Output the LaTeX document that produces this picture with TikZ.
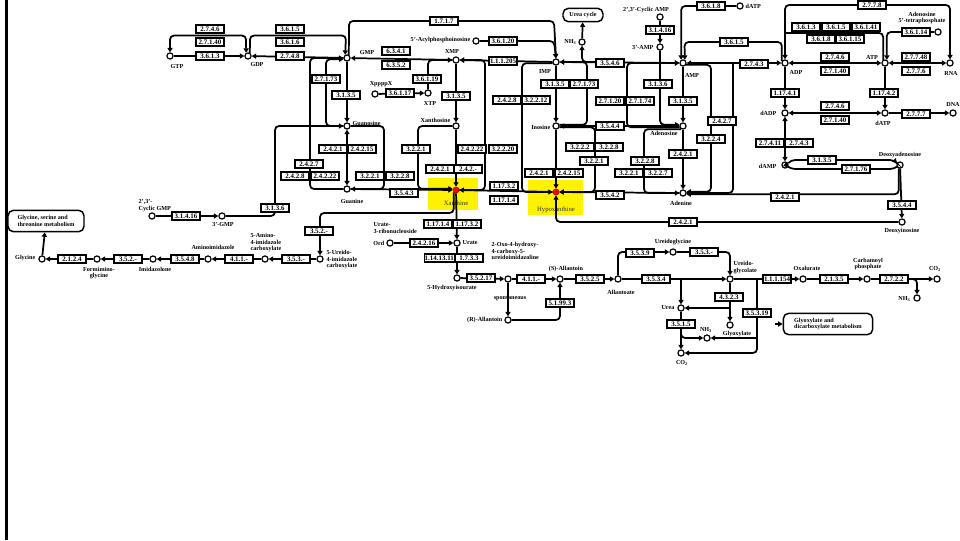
\documentclass[tikz,border=0pt]{standalone}
\usepackage{fontspec}
\setmainfont{Liberation Serif}
\usetikzlibrary{arrows.meta}
\begin{document}
\begin{tikzpicture}[x=0.75pt,y=-0.75pt,
  ec/.style={draw,line width=1.1pt,fill=white,minimum width=21pt,minimum height=6.2pt,inner sep=0.2pt,font=\fontsize{5.2}{5.2}\selectfont\bfseries},
  cpd/.style={circle,draw,line width=0.9pt,fill=white,minimum size=4.6pt,inner sep=0pt},
  hcpd/.style={circle,draw=red!60!black,line width=0.4pt,fill=red,minimum size=4.6pt,inner sep=0pt},
  lbl/.style={font=\fontsize{4.6}{4.9}\selectfont\bfseries,inner sep=0.3pt,align=center},
  hlbl/.style={font=\fontsize{5}{5}\selectfont,text=black!80,inner sep=0.3pt},
  rx/.style={line width=1.3pt,rounded corners=3pt},
  tip/.style={-{Triangle[length=3.3pt,width=3.8pt]}},
  both/.style={{Triangle[length=3.3pt,width=3.8pt]}-{Triangle[length=3.3pt,width=3.8pt]}},
  mapbox/.style={draw,line width=1.1pt,rounded corners=4pt,font=\fontsize{4.6}{4.9}\selectfont\bfseries,align=left,inner sep=2pt}
]
\useasboundingbox (0,0) rectangle (960,540);
\fill[black] (5,0) rectangle (7.5,540);

% highlights
\fill[yellow] (428,178) rectangle (478,210);
\fill[yellow] (528,180) rectangle (583,215);

% ---------------- compounds ----------------
\node[cpd] (gtp) at (170,56) {};
\node[lbl] (lgtp) at (177,66) {GTP};
\node[cpd] (gdp) at (248,56) {};
\node[lbl] (lgdp) at (257,64) {GDP};
\node[cpd] (gmp) at (347,58) {};
\node[lbl] (lgmp) at (367,52) {GMP};
\node[cpd] (xmp) at (456,60) {};
\node[lbl] (lxmp) at (452,51) {XMP};
\node[cpd] (xtp) at (428,93) {};
\node[lbl] (lxtp) at (430,103) {XTP};
\node[cpd] (xpx) at (375,94) {};
\node[lbl] (lxpx) at (381,84) {XppppX};
\node[cpd] (acyl) at (476,41) {};
\node[lbl,anchor=east] (lacyl) at (471,40) {5'-Acylphosphoinosine};
\node[cpd] (imp) at (556,62) {};
\node[lbl] (limp) at (545,71) {IMP};
\node[cpd] (nha) at (582,42) {};
\node[lbl,anchor=east] (lnha) at (577,42) {NH\textsubscript{3}};
\node[mapbox,minimum width=30pt,minimum height=10pt] (ureamap) at (583,15) {Urea cycle};
\node[cpd] (camp) at (660,17) {};
\node[lbl] (lcamp) at (646,10) {2',3'-Cyclic AMP};
\node[cpd] (amp3) at (660,47) {};
\node[lbl,anchor=east] (lamp3) at (654,47) {3'-AMP};
\node[cpd] (amp) at (683,63) {};
\node[lbl] (lamp) at (692,75) {AMP};
\node[cpd] (c3618) at (740,6) {};
\node[lbl,anchor=west] (lc3618) at (745,6) {dATP};
\node[cpd] (adp) at (785,63) {};
\node[lbl] (ladp) at (796,72) {ADP};
\node[cpd] (atp) at (885,63) {};
\node[lbl] (latp) at (872,57) {ATP};
\node[cpd] (rna) at (950,63) {};
\node[lbl] (lrna) at (951,73) {RNA};
\node[cpd] (adtp) at (938,32) {};
\node[lbl] (ladtp) at (922,18) {Adenosine\\5'-tetraphosphate};
\node[cpd] (dadp) at (785,113) {};
\node[lbl,anchor=east] (ldadp) at (777,113) {dADP};
\node[cpd] (datp) at (885,113) {};
\node[lbl] (ldatp) at (883,123) {dATP};
\node[cpd] (dna) at (953,113) {};
\node[lbl] (ldna) at (953,104) {DNA};
\node[cpd] (damp) at (785,165) {};
\node[lbl,anchor=east] (ldamp) at (777,166) {dAMP};
\node[cpd] (dado) at (900,165) {};
\node[lbl] (ldado) at (900,155) {Deoxyadenosine};
\node[cpd] (dino) at (902,222) {};
\node[lbl] (ldino) at (902,231) {Deoxyinosine};
\node[cpd] (ino) at (556,126) {};
\node[lbl,anchor=east] (lino) at (551,127) {Inosine};
\node[cpd] (ado) at (683,126) {};
\node[lbl] (lado) at (664,133) {Adenosine};
\node[cpd] (ade) at (683,193) {};
\node[lbl] (lade) at (681,203) {Adenine};
\node[hcpd] (hyp) at (556,192) {};
\node[hlbl] (lhyp) at (556,210) {Hypoxanthine};
\node[hcpd] (xan) at (456,190) {};
\node[hlbl] (lxan) at (456,203) {Xanthine};
\node[cpd] (xsn) at (456,126) {};
\node[lbl,anchor=east] (lxsn) at (451,120) {Xanthosine};
\node[cpd] (gsn) at (347,126) {};
\node[lbl,anchor=west] (lgsn) at (352,123) {Guanosine};
\node[cpd] (gua) at (347,189) {};
\node[lbl] (lgua) at (352,201) {Guanine};
\node[cpd] (cgmp) at (152,216) {};
\node[lbl,anchor=south west,align=left] (lcgmp) at (138,212) {2',3'-\\Cyclic GMP};
\node[cpd] (gmp3) at (222,216) {};
\node[lbl] (lgmp3) at (223,224) {3'-GMP};
\node[cpd] (urate) at (457,243) {};
\node[lbl,anchor=west] (lurate) at (462,243) {Urate};
\node[cpd] (urr) at (390,243) {};
\node[lbl,anchor=north west,align=left] (lurr) at (373,222) {Urate-\\3-ribonucleoside};
\node[lbl,anchor=east] (lurr2) at (385,243) {Ord};
\node[cpd] (ure) at (320,259) {};
\node[lbl,anchor=north west,align=left] (lure) at (326,250) {5-Ureido-\\4-imidazole\\carboxylate};
\node[cpd] (aic) at (265,259) {};
\node[lbl,anchor=north west,align=left] (laic) at (250,233) {5-Amino-\\4-imidazole\\carboxylate};
\node[cpd] (aim) at (208,259) {};
\node[lbl] (laim) at (213,247) {Aminoimidazole};
\node[cpd] (imz) at (153,259) {};
\node[lbl] (limz) at (155,269) {Imidazolone};
\node[cpd] (fgly) at (97,259) {};
\node[lbl] (lfgly) at (99,273) {Formimino-\\glycine};
\node[cpd] (gly) at (42,259) {};
\node[lbl,anchor=east] (lgly) at (36,258) {Glycine};
\node[mapbox,minimum width=57pt,minimum height=16pt] (glymap) at (46,221) {Glycine, serine and\\threonine metabolism};
\node[cpd] (hiu) at (457,278) {};
\node[lbl] (lhiu) at (452,288) {5-Hydroxyisourate};
\node[cpd] (ohcu) at (508,279) {};
\node[lbl,anchor=north west,align=left] (lohcu) at (491,242) {2-Oxo-4-hydroxy-\\4-carboxy-5-\\ureidoimidazoline};
\node[cpd] (sal) at (560,279) {};
\node[lbl] (lsal) at (566,269) {(S)-Allantoin};
\node[lbl] (lspon) at (510,298) {spontaneous};
\node[cpd] (ral) at (508,320) {};
\node[lbl,anchor=east] (lral) at (503,320) {(R)-Allantoin};
\node[cpd] (alla) at (618,279) {};
\node[lbl] (lalla) at (621,292) {Allantoate};
\node[cpd] (ugn) at (673,252) {};
\node[lbl] (lugn) at (673,242) {Ureidoglycine};
\node[cpd] (urea) at (681,308) {};
\node[lbl,anchor=east] (lurea) at (675,308) {Urea};
\node[cpd] (co2a) at (681,353) {};
\node[lbl] (lco2a) at (682,363) {CO\textsubscript{2}};
\node[cpd] (nhb) at (707,338) {};
\node[lbl] (lnhb) at (706,330) {NH\textsubscript{3}};
\node[cpd] (ugc) at (730,279) {};
\node[lbl,anchor=north west,align=left] (lugc) at (733,261) {Ureido-\\glycolate};
\node[cpd] (glx) at (730,325) {};
\node[lbl] (lglx) at (737,334) {Glyoxylate};
\node[cpd] (oxa) at (803,279) {};
\node[lbl] (loxa) at (807,268) {Oxalurate};
\node[cpd] (cbp) at (867,279) {};
\node[lbl] (lcbp) at (868,264) {Carbamoyl\\phosphate};
\node[cpd] (co2b) at (937,279) {};
\node[lbl] (lco2b) at (935,269) {CO\textsubscript{2}};
\node[cpd] (nhc) at (917,298) {};
\node[lbl,anchor=east] (lnhc) at (911,299) {NH\textsubscript{3}};
\node[mapbox,minimum width=67pt,minimum height=16pt] (glxmap) at (828,324) {Glyoxylate and\\dicarboxylate metabolism};

% ---------------- junctions ----------------
\coordinate (j1) at (681,279);
\coordinate (j2) at (730,308);
\coordinate (j3) at (757,338);
\coordinate (j4) at (681,331);
\coordinate (j5) at (757,279);
\coordinate (j6) at (906,279);
\coordinate (j7) at (775,324);
\coordinate (j8) at (597,62);
\coordinate (j9) at (733,64);
\coordinate (j10) at (785,33);

% ---------------- connectors ----------------
\draw[rx,tip] (gtp) -- (gdp);
\draw[rx,both] (gtp.north) -- (170,35.5) -- (246,35.5) -- (gdp.120);
\draw[rx,tip] (gmp) -- (gdp);
\draw[rx,tip] (gdp.60) -- (250,35.5) -- (346,35.5) -- (gmp.120);
\draw[rx,tip] (gmp.60) -- (349,21) -- (554,21) -- (imp.north);
\draw[rx,tip] (acyl) -- (554,41) -- (imp.north);
\draw[rx,tip] (xmp) -- (gmp);
\draw[rx,tip] (imp) -- (xmp);
\draw[rx,tip] (xpx) -- (xtp);
\draw[rx,tip] (xtp.north) |- (xmp.west);
\draw[rx,tip] (xmp) -- (xsn);
\draw[rx,tip] (gmp) -- (gsn);
\draw[rx,tip] (gsn.west) -| (326,100) |- (gmp.200);
\draw[rx,tip] (gua.west) -| (310,120) |- (gmp.west);
\draw[rx,both] (gsn) -- (gua);
\draw[rx,tip] (gsn.east) -| (384,150) |- (gua.east);
\draw[rx,tip] (gua) -- (xan);
\draw[rx,tip] (cgmp) -- (gmp3);
\draw[rx,tip] (gmp3.east) -| (275,170) |- (gsn.west);
\draw[rx,tip] (xsn) -- (xan);
\draw[rx,tip] (xsn.west) -| (418,160) |- (xan.160);
\draw[rx,tip] (xan.east) -| (485,120) |- (xmp.east);
\draw[rx,tip] (imp.200) -| (522,120) |- (hyp.west);
\draw[rx,tip] (imp) -- (ino);
\draw[rx,tip] (ino.20) -| (587,95) |- (imp.east);
\draw[rx,tip] (ino) -- (hyp);
\draw[rx,tip] (ino.340) -| (595,160) |- (hyp.east);
\draw[rx,tip] (ado) -- (ino);
\draw[rx,tip] (ade) -- (hyp);
\draw[rx,tip] (dino.west) -| (hyp.south);
\draw[rx,tip] (hyp) -- (xan);
\draw[rx,tip] (xan) -- (urate);
\draw[rx,tip] (urr) -- (urate);
\draw[rx,tip] (xan.south west) |- (320,213) -- (ure.north);
\draw[rx,tip] (ure) -- (aic);
\draw[rx,tip] (aic) -- (aim);
\draw[rx,tip] (aim) -- (imz);
\draw[rx,tip] (imz) -- (fgly);
\draw[rx,tip] (fgly) -- (gly);
\draw[rx,tip] (gly) -- (glymap);
\draw[rx,tip] (urate) -- (hiu);
\draw[rx,tip] (hiu) -- (ohcu);
\draw[rx,tip] (ohcu) -- (sal);
\draw[rx,tip] (ohcu) -- (ral);
\draw[rx,tip] (ral.east) -| (sal.south);
\draw[rx,tip] (sal) -- (alla);
\draw[rx,tip] (alla) -- (ugc);
\draw[rx,tip] (j1) -- (urea);
\draw[rx,tip] (alla.north) |- (ugn.west);
\draw[rx,tip] (ugn.east) -| (ugc.north);
\draw[rx,tip] (ugc) -- (glx);
\draw[rx,tip] (j2) -- (urea.east);
\draw[rx,tip] (j5) |- (co2a.east);
\draw[rx,tip] (j3) -- (nhb.east);
\draw[rx,tip] (urea) -- (co2a);
\draw[rx,tip] (j4) |- (nhb.west);
\draw[rx,tip] (ugc) -- (oxa);
\draw[rx,tip] (oxa) -- (cbp);
\draw[rx,tip] (cbp) -- (co2b);
\draw[rx,tip] (j6) -| (nhc.north);
\draw[line width=1pt,tip] (j7) -- (glxmap.west);
\draw[rx,both] (amp) -- (imp);
\draw[rx,tip] (j8) -| (nha.south);
\draw[rx,tip] (nha) -- (ureamap);
\draw[rx,tip] (camp) -- (amp3);
\draw[rx,tip] (amp3.south) |- (ado.160);
\draw[rx,tip] (amp) -- (ado);
\draw[rx,tip] (ado.200) -| (627,100) |- (amp.west);
\draw[rx,tip] (ado) -- (ade);
\draw[rx,tip] (ado.240) -| (644,160) |- (ade.west);
\draw[rx,tip] (amp.330) -| (711,150) |- (ade.20);
\draw[rx] (ade.east) -| (j9);
\draw[rx,both] (amp) -- (adp);
\draw[rx,tip] (adp.150) |- (684.5,42) -- (amp.60);
\draw[rx,tip] (c3618) -| (amp.120);
\draw[rx,both] (adp) -- (atp);
\draw[rx,both] (adp.north) -- (785,5) -- (950,5) -- (rna.north);
\draw[rx] (atp.120) |- (j10);
\draw[rx,tip] (adtp) -| (atp.60);
\draw[rx,both] (atp) -- (rna);
\draw[rx,tip] (adp) -- (dadp);
\draw[rx,tip] (atp) -- (datp);
\draw[rx,both] (datp) -- (dadp);
\draw[rx,tip] (datp) -- (dna);
\draw[rx,both] (dadp) -- (damp);
\draw[rx,tip] (damp.30) -- (791,160) -- (894,160) -- (dado.150);
\draw[rx,tip] (dado.210) -- (894,169) -- (791,169) -- (damp.330);
\draw[rx,tip] (dado) -- (dino);
\draw[rx,tip] (dado.250) |- (ade.340);

% ---------------- enzymes ----------------
\node[ec] (e1) at (210,29) {2.7.4.6};
\node[ec] (e2) at (210,42) {2.7.1.40};
\node[ec] (e3) at (210,56) {3.6.1.3};
\node[ec] (e4) at (290,29) {3.6.1.5};
\node[ec] (e5) at (290,42) {3.6.1.6};
\node[ec] (e6) at (290,56) {2.7.4.8};
\node[ec] (e7) at (444,21) {1.7.1.7};
\node[ec] (e8) at (503,41) {3.6.1.20};
\node[ec] (e9) at (396,51) {6.3.4.1};
\node[ec] (e10) at (396,65) {6.3.5.2};
\node[ec] (e11) at (503,61) {1.1.1.205};
\node[ec] (e12) at (326,79) {2.7.1.73};
\node[ec] (e13) at (346,95) {3.1.3.5};
\node[ec] (e14) at (400,93) {3.6.1.17};
\node[ec] (e15) at (427,79) {3.6.1.19};
\node[ec] (e16) at (456,96) {3.1.3.5};
\node[ec] (e17) at (309,164) {2.4.2.7};
\node[ec] (e18) at (295,176) {2.4.2.8};
\node[ec] (e19) at (325,176) {2.4.2.22};
\node[ec] (e20) at (333,149) {2.4.2.1};
\node[ec] (e21) at (362,149) {2.4.2.15};
\node[ec] (e22) at (370,176) {3.2.2.1};
\node[ec] (e23) at (400,176) {3.2.2.8};
\node[ec] (e24) at (404,193) {3.5.4.3};
\node[ec] (e25) at (416,149) {3.2.2.1};
\node[ec] (e26) at (440,169) {2.4.2.1};
\node[ec] (e27) at (468,169) {2.4.2.-};
\node[ec] (e28) at (472,149) {2.4.2.22};
\node[ec] (e29) at (503,149) {3.2.2.20};
\node[ec] (e30) at (275,208) {3.1.3.6};
\node[ec] (e31) at (186,216) {3.1.4.16};
\node[ec] (e32) at (319,231) {3.5.2.-};
\node[ec] (e33) at (438,224) {1.17.1.4};
\node[ec] (e34) at (467,224) {1.17.3.2};
\node[ec] (e35) at (424,243) {2.4.2.16};
\node[ec] (e36) at (441,258) {1.14.13.113};
\node[ec] (e37) at (469,258) {1.7.3.3};
\node[ec] (e38) at (481,278) {3.5.2.17};
\node[ec] (e39) at (531,279) {4.1.1.-};
\node[ec] (e40) at (560,303) {5.1.99.3};
\node[ec] (e41) at (590,279) {3.5.2.5};
\node[ec] (e42) at (656,279) {3.5.3.4};
\node[ec] (e43) at (640,253) {3.5.3.9};
\node[ec] (e44) at (704,252) {3.5.3.-};
\node[ec] (e45) at (729,297) {4.3.2.3};
\node[ec] (e46) at (757,313) {3.5.3.19};
\node[ec] (e47) at (681,324) {3.5.1.5};
\node[ec] (e48) at (777,279) {1.1.1.154};
\node[ec] (e49) at (834,279) {2.1.3.5};
\node[ec] (e50) at (894,279) {2.7.2.2};
\node[ec] (e51) at (72,259) {2.1.2.4};
\node[ec] (e52) at (128,259) {3.5.2.-};
\node[ec] (e53) at (185,259) {3.5.4.8};
\node[ec] (e54) at (239,259) {4.1.1.-};
\node[ec] (e55) at (296,259) {3.5.3.-};
\node[ec] (e56) at (555,84) {3.1.3.5};
\node[ec] (e57) at (584,84) {2.7.1.73};
\node[ec] (e58) at (507,100) {2.4.2.8};
\node[ec] (e59) at (536,100) {3.2.2.12};
\node[ec] (e60) at (610,63) {3.5.4.6};
\node[ec] (e61) at (660,30) {3.1.4.16};
\node[ec] (e62) at (610,101) {2.7.1.20};
\node[ec] (e63) at (640,101) {2.7.1.74};
\node[ec] (e64) at (658,84) {3.1.3.6};
\node[ec] (e65) at (683,101) {3.1.3.5};
\node[ec] (e66) at (610,126) {3.5.4.4};
\node[ec] (e67) at (580,147) {3.2.2.2};
\node[ec] (e68) at (609,147) {3.2.2.8};
\node[ec] (e69) at (594,161) {3.2.2.1};
\node[ec] (e70) at (539,173) {2.4.2.1};
\node[ec] (e71) at (569,173) {2.4.2.15};
\node[ec] (e72) at (504,186) {1.17.3.2};
\node[ec] (e73) at (504,200) {1.17.1.4};
\node[ec] (e74) at (610,195) {3.5.4.2};
\node[ec] (e75) at (683,222) {2.4.2.1};
\node[ec] (e76) at (683,154) {2.4.2.1};
\node[ec] (e77) at (645,161) {3.2.2.8};
\node[ec] (e78) at (629,173) {3.2.2.1};
\node[ec] (e79) at (658,173) {3.2.2.7};
\node[ec] (e80) at (711,139) {3.2.2.4};
\node[ec] (e81) at (722,121) {2.4.2.7};
\node[ec] (e82) at (754,64) {2.7.4.3};
\node[ec] (e83) at (734,42) {3.6.1.5};
\node[ec] (e84) at (711,6) {3.6.1.8};
\node[ec] (e85) at (872,5) {2.7.7.8};
\node[ec] (e86) at (806,27) {3.6.1.3};
\node[ec] (e87) at (836,27) {3.6.1.5};
\node[ec] (e88) at (866,27) {3.6.1.41};
\node[ec] (e89) at (821,39) {3.6.1.8};
\node[ec] (e90) at (850,39) {3.6.1.15};
\node[ec] (e91) at (916,32) {3.6.1.14};
\node[ec] (e92) at (835,57) {2.7.4.6};
\node[ec] (e93) at (835,71) {2.7.1.40};
\node[ec] (e94) at (916,57) {2.7.7.48};
\node[ec] (e95) at (916,71) {2.7.7.6};
\node[ec] (e96) at (785,93) {1.17.4.1};
\node[ec] (e97) at (884,93) {1.17.4.2};
\node[ec] (e98) at (835,106) {2.7.4.6};
\node[ec] (e99) at (835,120) {2.7.1.40};
\node[ec] (e100) at (916,114) {2.7.7.7};
\node[ec] (e101) at (770,143) {2.7.4.11};
\node[ec] (e102) at (799,143) {2.7.4.3};
\node[ec] (e103) at (822,160) {3.1.3.5};
\node[ec] (e104) at (856,169) {2.7.1.76};
\node[ec] (e105) at (902,205) {3.5.4.4};
\node[ec] (e106) at (785,197) {2.4.2.1};
\end{tikzpicture}
\end{document}
